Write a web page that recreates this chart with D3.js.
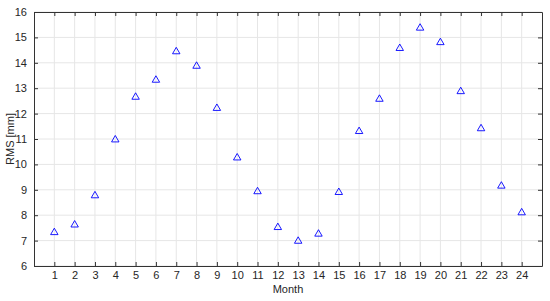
<!DOCTYPE html>
<html>
<head>
<meta charset="utf-8">
<script src="https://cdn.jsdelivr.net/npm/d3@7"></script>
<style>
  body { margin: 0; background: #fff; }
  text { font-family: "Liberation Sans", Arial, sans-serif; fill: #262626; }
</style>
</head>
<body>
<div id="chart"></div>
<script>
const months = d3.range(1, 25)
const rms = [7.32, 7.62, 8.77, 10.97, 12.65, 13.32, 14.44, 13.87, 12.21, 10.26,
  8.93, 7.52, 6.98, 7.26, 8.9, 11.3, 12.57, 14.57, 15.37, 14.8, 12.87, 11.41, 9.15, 8.1]
const yTicks = d3.range(6, 17)

const fullWidth = 550, fullHeight = 301
const margin = { top: 12, right: 8, bottom: 35, left: 34 },
  width = fullWidth - margin.left - margin.right,
  height = fullHeight - margin.top - margin.bottom

const svg = d3.select('#chart')
  .append('svg')
    .attr('width', fullWidth)
    .attr('height', fullHeight)
  .append('g')
    .attr('transform', `translate(${margin.left}, ${margin.top})`)

const xScale = d3.scaleLinear().domain([0, 25]).range([0, width])
const yScale = d3.scaleLinear().domain([6, 16]).range([height, 0])

// grid
svg.append('g')
  .selectAll('line')
  .data(months)
  .enter().append('line')
    .attr('x1', d => xScale(d)).attr('x2', d => xScale(d))
    .attr('y1', 0).attr('y2', height)
    .style('stroke', '#e6e6e6')
svg.append('g')
  .selectAll('line')
  .data(yTicks)
  .enter().append('line')
    .attr('y1', d => yScale(d)).attr('y2', d => yScale(d))
    .attr('x1', 0).attr('x2', width)
    .style('stroke', '#e6e6e6')

// axes with inward ticks (box on)
const axisStyle = g => {
  g.select('.domain').style('stroke', '#333')
  g.selectAll('.tick line').style('stroke', '#333')
  g.selectAll('.tick text').style('font-size', '11px').style('fill', '#262626')
    .attr('font-family', '"Liberation Sans", Arial, sans-serif')
}

svg.append('g')
  .attr('transform', `translate(0, ${height})`)
  .call(d3.axisBottom(xScale).tickValues(months).tickSizeInner(-4).tickSizeOuter(0).tickPadding(5))
  .call(axisStyle)
svg.append('g')
  .call(d3.axisTop(xScale).tickValues(months).tickSizeInner(-4).tickSizeOuter(0).tickFormat(''))
  .call(axisStyle)
svg.append('g')
  .call(d3.axisLeft(yScale).tickValues(yTicks).tickSizeInner(-4).tickSizeOuter(0).tickPadding(7))
  .call(axisStyle)
svg.append('g')
  .attr('transform', `translate(${width}, 0)`)
  .call(d3.axisRight(yScale).tickValues(yTicks).tickSizeInner(-4).tickSizeOuter(0).tickFormat(''))
  .call(axisStyle)

// markers
const tri = d3.symbol().type(d3.symbolTriangle).size(24)
svg.append('g')
  .selectAll('path')
  .data(rms)
  .enter().append('path')
    .attr('d', tri)
    .attr('transform', (d, i) => `translate(${xScale(months[i])}, ${yScale(d)})`)
    .style('fill', 'none')
    .style('stroke', '#0000ff')
    .style('stroke-width', 0.9)

// labels
svg.append('text')
  .attr('x', width / 2)
  .attr('y', height + 27)
  .attr('text-anchor', 'middle')
  .style('font-size', '11px')
  .text('Month')
svg.append('text')
  .attr('transform', `translate(-20, ${height / 2}) rotate(-90)`)
  .attr('text-anchor', 'middle')
  .style('font-size', '11px')
  .text('RMS [mm]')
</script>
</body>
</html>
